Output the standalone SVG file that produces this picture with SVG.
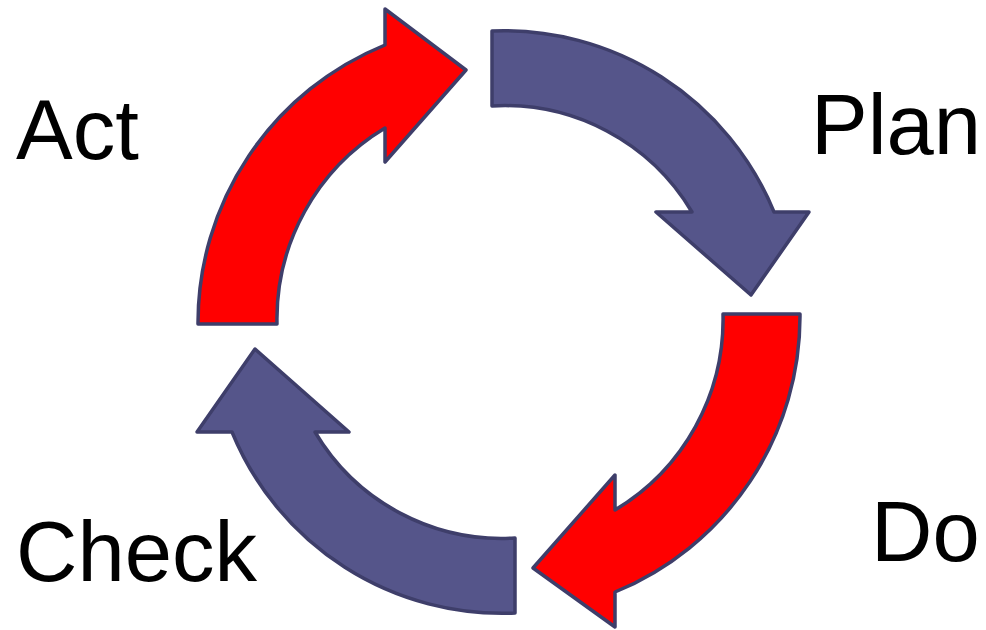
<svg xmlns="http://www.w3.org/2000/svg" width="986" height="630" viewBox="0 0 986 630">
<style>
.blue{fill:#55558A;stroke:#3E3E6A;stroke-width:3.5;stroke-linejoin:round}
.red{fill:#FF0000;stroke:#3E3E6A;stroke-width:3.5;stroke-linejoin:round}
.lbl{font-family:"Liberation Sans",Arial,sans-serif;font-size:85px;fill:#000}
</style>
<rect width="986" height="630" fill="#fff"/>
<g id="connectors">
<path id="arrow-plan" class="blue" d="M 492 31 A 292 292 0 0 1 774 212 L 809 212 L 751 295 L 656 212 L 692 212 A 218 218 0 0 0 492 106 Z"/>
<path id="arrow-do" class="red" d="M 800 314 A 298 298 0 0 1 615 592 L 615 627 L 533 568 L 615 475 L 615 510 A 222 222 0 0 0 723 314 Z"/>
<path id="arrow-check" class="blue" d="M 515 613 A 292 292 0 0 1 232 432 L 197 432 L 255 349 L 349 432 L 315 432 A 217 217 0 0 0 515 538 Z"/>
<path id="arrow-act" class="red" d="M 198 324 A 300 300 0 0 1 385 45 L 385 9 L 466 70 L 385 162 L 385 128 A 223 223 0 0 0 277 324 Z"/>
</g>
<g id="plan"><text class="lbl" x="811" y="154">Plan</text></g>
<g id="do"><text class="lbl" x="871" y="561">Do</text></g>
<g id="check"><text class="lbl" x="16" y="581">Check</text></g>
<g id="act"><text class="lbl" x="16" y="159">Act</text></g>
</svg>
